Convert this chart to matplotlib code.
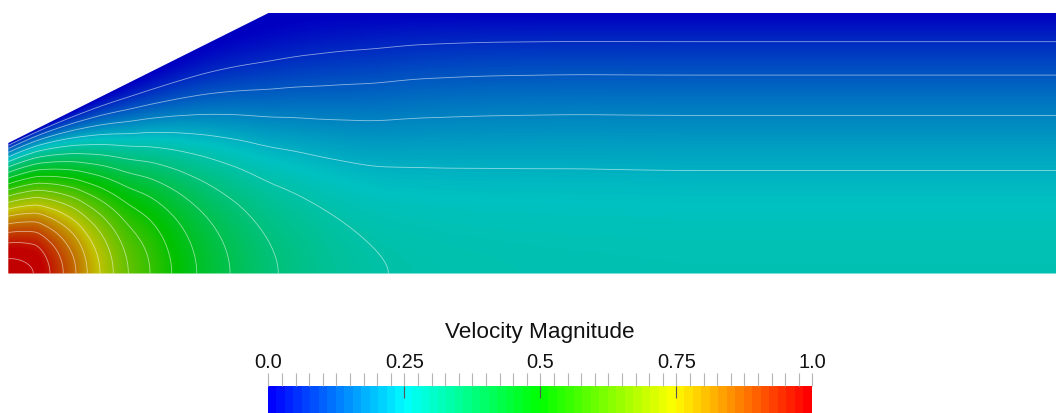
import numpy as np
import matplotlib
matplotlib.use("Agg")
import matplotlib.pyplot as plt
from matplotlib.colors import hsv_to_rgb, ListedColormap
from matplotlib.patches import Polygon
from matplotlib.ticker import MultipleLocator

plt.rcParams['font.family'] = ['Liberation Sans', 'DejaVu Sans']

# ---- geometry (domain units, outlet half-height = 2) ----
inlet_height = 1.0
outlet_height = 2.0
expansion_end = 2.0
domain_length = 8.1

# ---- contour levels of velocity magnitude ----
contour_levels = [0.057, 0.114, 0.171, 0.228, 0.285, 0.343, 0.400, 0.457, 0.514,
                  0.571, 0.628, 0.685, 0.742, 0.799, 0.856, 0.913, 0.970, 1.027]

# ---- velocity magnitude on the symmetry axis (read at contour crossings) ----
centerline_x = [0.0, 0.191, 0.319, 0.421, 0.518, 0.605, 0.702, 0.804, 0.919,
                1.085, 1.251, 1.443, 1.698, 2.067, 2.910, 3.52, 4.29, 5.36, 8.5]
centerline_speed = [1.045, 1.027, 0.970, 0.913, 0.856, 0.799, 0.742, 0.685, 0.628,
                    0.571, 0.514, 0.457, 0.400, 0.343, 0.285, 0.276, 0.272, 0.270, 0.270]

# ---- cross-stream profile shape  u = Uc * (1 - eta^2)^b,  b from axis to wall ----
profile_x = [0.0, 0.6, 1.2, 1.9, 2.3, 2.7, 3.2, 3.8, 4.5, 8.5]
profile_b_axis = [1.35, 1.42, 1.46, 1.48, 1.45, 1.32, 1.15, 1.05, 1.0, 1.0]
profile_b_wall = [0.85, 1.05, 1.30, 1.44, 1.35, 1.20, 1.06, 1.01, 1.0, 1.0]

# ---- colour bar ----
bar_ticks = [0.0, 0.25, 0.5, 0.75, 1.0]
bar_labels = ["0.0", "0.25", "0.5", "0.75", "1.0"]
bar_title = "Velocity Magnitude"


def pchip(xk, yk, x, flat_start=True):
    """Monotone cubic (Fritsch-Carlson) through the read points."""
    xk = np.asarray(xk, float)
    yk = np.asarray(yk, float)
    h = np.diff(xk)
    d = np.diff(yk) / h
    n = len(xk)
    m = np.zeros(n)
    for k in range(1, n - 1):
        if d[k - 1] * d[k] > 0:
            w1 = 2 * h[k] + h[k - 1]
            w2 = h[k] + 2 * h[k - 1]
            m[k] = (w1 + w2) / (w1 / d[k - 1] + w2 / d[k])
    m[0] = 0.0 if flat_start else d[0]
    m[-1] = 0.0
    idx = np.clip(np.searchsorted(xk, x) - 1, 0, n - 2)
    t = (x - xk[idx]) / h[idx]
    h00 = 2 * t**3 - 3 * t**2 + 1
    h10 = t**3 - 2 * t**2 + t
    h01 = -2 * t**3 + 3 * t**2
    h11 = t**3 - t**2
    return (h00 * yk[idx] + h10 * h[idx] * m[idx]
            + h01 * yk[idx + 1] + h11 * h[idx] * m[idx + 1])


# ---------------------------------------------------------------
W, Hpx = 1056, 413
fig = plt.figure(figsize=(W / 100, Hpx / 100), dpi=100)
fig.patch.set_facecolor("white")

px_x, px_y = 130.6, 130.5          # pixels per domain unit
x0_px, y0_px = 8.3, 273.5          # pixel position of the inlet axis point
ax = fig.add_axes([0, 0, 1, 1])
ax.set_xlim(-x0_px / px_x, (W - x0_px) / px_x)
ax.set_ylim(-(Hpx - y0_px) / px_y, y0_px / px_y)
ax.axis("off")


def rainbow(n, shade=1.0):
    v = np.linspace(0, 1, n)
    hsv = np.stack([(1 - v) * 2 / 3, np.ones(n), np.ones(n)], axis=1)
    return ListedColormap(hsv_to_rgb(hsv) * shade)


field_cmap = rainbow(256, shade=0.76)
bar_cmap = rainbow(64)

xs = np.linspace(0, domain_length, 1600)
ys = np.linspace(0, outlet_height, 440)
X, Y = np.meshgrid(xs, ys)

# wall height with the expansion corner rounded for the flow profile
slope = (outlet_height - inlet_height) / expansion_end
wr = 0.6
xr = X - (expansion_end - wr)
Hflow = np.where(X < expansion_end - wr, inlet_height + slope * X,
                 np.where(X > expansion_end + wr, outlet_height,
                          inlet_height + slope * (expansion_end - wr) + slope * xr
                          - slope * xr**2 / (4 * wr)))
eta = np.clip(Y / Hflow, 0, 1)
Uc = pchip(centerline_x, centerline_speed, X)
b_axis = pchip(profile_x, profile_b_axis, X)
b_wall = pchip(profile_x, profile_b_wall, X)
b = b_axis + (b_wall - b_axis) * eta ** 2
speed = Uc * (1 - eta ** 2) ** b

poly = Polygon([(0, 0), (0, inlet_height), (expansion_end, outlet_height),
                (domain_length, outlet_height), (domain_length, 0)],
               closed=True, facecolor="none", edgecolor="none")
ax.add_patch(poly)

im = ax.imshow(speed, cmap=field_cmap, vmin=0, vmax=1, origin="lower",
               extent=[0, domain_length, 0, outlet_height], interpolation="bilinear",
               aspect="auto")
im.set_clip_path(poly)

cs = ax.contour(X, Y, speed, levels=contour_levels, colors="white",
                linewidths=0.6, alpha=0.55)
cs.set_clip_path(poly)

# ---- colour bar ----
cax = fig.add_axes([268.3 / W, 0, 544 / W, 26.7 / Hpx])
cax.imshow(np.arange(64)[None, :], cmap=bar_cmap, aspect="auto",
           extent=[0, 1, 0, 1], interpolation="nearest")
cax.set_xlim(0, 1)
cax.set_ylim(0, 1)
for s in cax.spines.values():
    s.set_visible(False)
cax.set_yticks([])
cax.xaxis.set_ticks_position("top")
cax.set_xticks(bar_ticks)
cax.set_xticklabels([])
cax.xaxis.set_minor_locator(MultipleLocator(0.025))
cax.tick_params(axis="x", which="both", direction="out", length=13 * 0.72,
                width=0.8, color="#b4b4b4")
cax.vlines(bar_ticks[1:-1], 1 - 12 / 26.7, 1, color="#555555", lw=0.8)
for t, lab in zip(bar_ticks, bar_labels):
    cax.text(t, 1 + (386.3 - 368.3) / 26.7, lab, ha="center", va="baseline",
             fontsize=14.4, color="#111111", clip_on=False)
fig.text(540 / W, 1 - 338 / Hpx, bar_title, ha="center", va="baseline",
         fontsize=16.2, color="#111111")

fig.savefig("out.png", dpi=100, facecolor="white")
